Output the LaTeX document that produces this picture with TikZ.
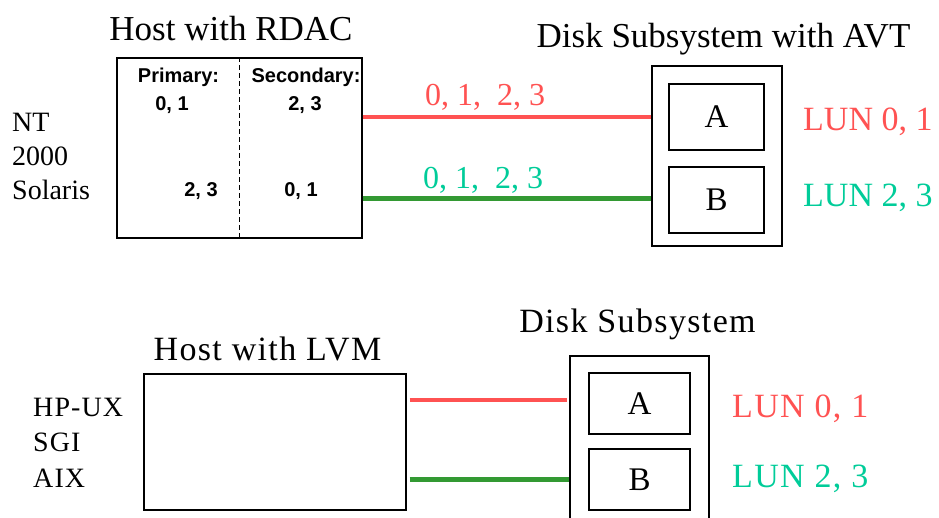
\documentclass[tikz,border=0pt]{standalone}
\usepackage{fontspec}
\setmainfont{Liberation Serif}
\newfontfamily\pathfont{Liberation Sans}
\definecolor{lunred}{RGB}{255,82,82}
\definecolor{lungreen}{RGB}{0,204,153}
\definecolor{cablegreen}{RGB}{51,153,51}

\begin{document}
\begin{tikzpicture}[x=1pt,y=-1pt]
\tikzstyle{every node} = [rectangle, inner sep=0pt]
\tikzstyle{box} = [draw, line width=1.3pt]
\tikzstyle{title} = [font=\fontsize{35}{40}\selectfont, anchor=base]
\tikzstyle{oslabel} = [font=\fontsize{28}{32}\selectfont, anchor=base west]
\tikzstyle{pathlabel} = [font=\pathfont\bfseries\fontsize{20}{24}\selectfont, anchor=base]
\tikzstyle{lun} = [font=\fontsize{34}{38}\selectfont, anchor=base west]
\tikzstyle{cable} = [line width=4.5pt]
\clip (0,0) rectangle (939,518);

% upper part: host with RDAC
\node[title] (rdactitle) at (231,41) {Host with RDAC};
\node[box, minimum width=245pt, minimum height=180pt] (rdac) at (239.5,148) {};
\draw[dashed, line width=0.8pt, dash pattern=on 5pt off 3pt] (rdac.north) -- (rdac.south);
\node[pathlabel] (prim) at (178.5,83) {Primary:};
\node[pathlabel] (prima) at (172,111) {0, 1};
\node[pathlabel] (primb) at (201,197) {2, 3};
\node[pathlabel] (sec) at (306,83) {Secondary:};
\node[pathlabel] (seca) at (305,111) {2, 3};
\node[pathlabel] (secb) at (301,197) {0, 1};
\node[oslabel] (nt) at (12,132) {NT};
\node[oslabel] (win) at (12,166) {2000};
\node[oslabel] (sol) at (12,200) {Solaris};

% upper part: disk subsystem with AVT
\node[title] (avttitle) at (723.5,48) {Disk Subsystem with AVT};
\node[box, minimum width=130pt, minimum height=180pt] (avt) at (717,156) {};
\node[box, minimum width=95pt, minimum height=66pt, font=\fontsize{33}{38}\selectfont] (avta) at (716.5,117) {A};
\node[box, minimum width=95pt, minimum height=66pt, font=\fontsize{33}{38}\selectfont] (avtb) at (716.5,200) {B};
\node[lun, lunred] (luna) at (803,131) {LUN 0, 1};
\node[lun, lungreen] (lunb) at (803,207) {LUN 2, 3};

\draw[cable, lunred] (rdac.east |- avta.center) -- (avt.west |- avta.center);
\draw[cable, cablegreen] ([yshift=1.5pt]rdac.east |- avtb.center) -- ([yshift=1.5pt]avt.west |- avtb.center);
\node[font=\fontsize{32}{36}\selectfont, lunred, anchor=base] (patha) at (485,106) {0, 1,\ \ 2, 3};
\node[font=\fontsize{32}{36}\selectfont, lungreen, anchor=base] (pathb) at (483,189) {0, 1,\ \ 2, 3};

% lower part: host with LVM
\node[title, font=\fontsize{34}{40}\selectfont\addfontfeature{LetterSpace=4}] (lvmtitle) at (267.5,360) {Host with LVM};
\node[box, minimum width=262pt, minimum height=136pt] (lvm) at (275,442) {};
\node[oslabel, font=\fontsize{28}{32}\selectfont\addfontfeature{LetterSpace=4}] (hpux) at (33,416) {HP-UX};
\node[oslabel, font=\fontsize{28}{32}\selectfont\addfontfeature{LetterSpace=4}] (sgi) at (33,451) {SGI};
\node[oslabel, font=\fontsize{28}{32}\selectfont\addfontfeature{LetterSpace=4}] (aix) at (33,487) {AIX};

% lower part: disk subsystem
\node[title, font=\fontsize{34}{40}\selectfont\addfontfeature{LetterSpace=4}] (disktitle) at (637.5,333) {Disk Subsystem};
\node[box, minimum width=139pt, minimum height=184pt] (disk) at (639.5,448) {};
\node[box, minimum width=101pt, minimum height=61pt, font=\fontsize{33}{38}\selectfont] (diska) at (639.5,403.5) {A};
\node[box, minimum width=101pt, minimum height=61pt, font=\fontsize{33}{38}\selectfont] (diskb) at (639.5,479.5) {B};
\node[lun, lunred, font=\fontsize{34}{38}\selectfont\addfontfeature{LetterSpace=4}] (lunc) at (732,417) {LUN 0, 1};
\node[lun, lungreen, font=\fontsize{34}{38}\selectfont\addfontfeature{LetterSpace=4}] (lund) at (732,487) {LUN 2, 3};

\draw[cable, lunred] ([xshift=3pt, yshift=3.5pt]lvm.east |- diska.center) -- ([xshift=-2pt, yshift=3.5pt]disk.west |- diska.center);
\draw[cable, cablegreen] ([xshift=3pt]lvm.east |- diskb.center) -- (disk.west |- diskb.center);
\end{tikzpicture}
\end{document}
